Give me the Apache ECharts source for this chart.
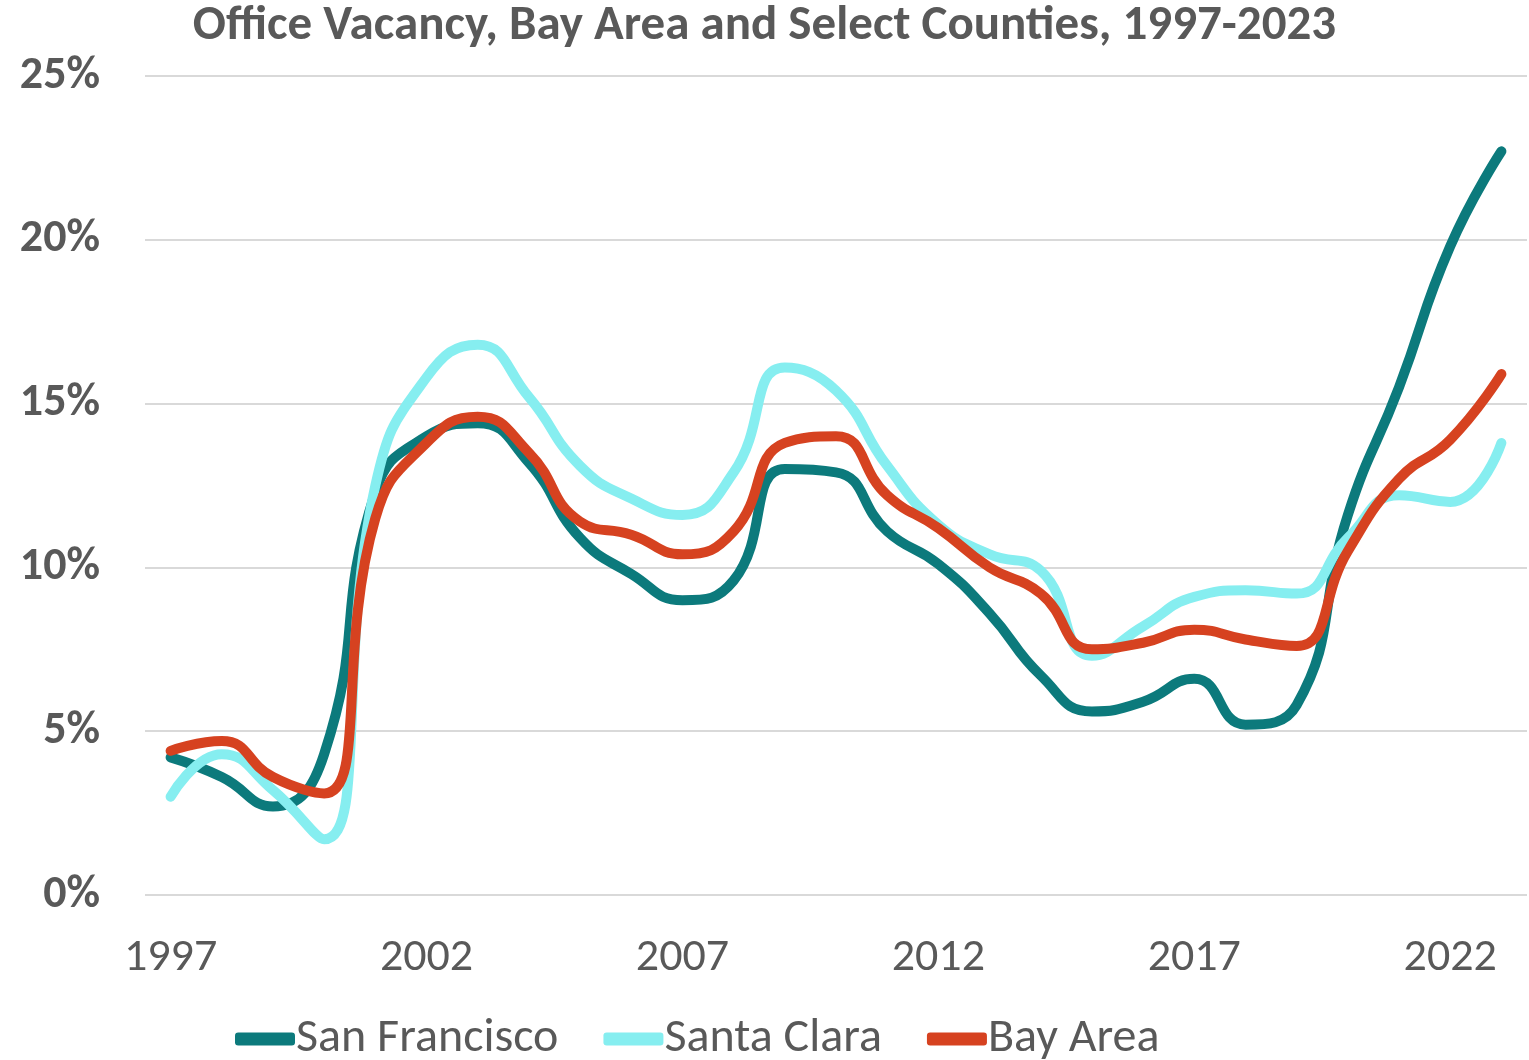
<!DOCTYPE html>
<html>
<head>
<meta charset="utf-8">
<script src="https://cdn.jsdelivr.net/npm/echarts@6/dist/echarts.min.js"></script>
<style>
  html, body { margin: 0; padding: 0; background: #ffffff; }
  #chart { width: 1529px; height: 1060px; }
</style>
</head>
<body>
<div id="chart"></div>
<script>
const years = ['1997','1998','1999','2000','2001','2002','2003','2004','2005','2006','2007','2008','2009','2010','2011','2012','2013','2014','2015','2016','2017','2018','2019','2020','2021','2022','2023'];
const sanFrancisco = [4.2, 3.6, 2.7, 4.3, 12.3, 14.0, 14.4, 13.2, 10.9, 9.8, 9.0, 9.6, 13.0, 12.9, 11.1, 10.1, 8.6, 6.7, 5.6, 5.9, 6.6, 5.2, 5.8, 11.6, 15.5, 19.8, 22.7];
const santaClara = [3.0, 4.3, 3.2, 1.7, 12.5, 15.8, 16.8, 15.2, 13.1, 12.1, 11.6, 12.9, 16.1, 15.4, 13.1, 11.3, 10.4, 9.9, 7.3, 8.2, 9.1, 9.3, 9.2, 10.9, 12.2, 12.0, 13.8];
const bayArea = [4.4, 4.7, 3.6, 3.1, 11.5, 13.8, 14.6, 13.5, 11.4, 11.0, 10.4, 11.1, 13.8, 14.0, 12.2, 11.2, 10.0, 9.2, 7.5, 7.7, 8.1, 7.8, 7.6, 10.5, 12.7, 13.9, 15.9];
const yTicks = [0, 5, 10, 15, 20, 25];

const FONT = "Carlito, Lato, 'Open Sans', sans-serif";
const GRAY = '#595959';

const chart = echarts.init(document.getElementById('chart'), null, { renderer: 'canvas' });

function mk(name, data, color) {
  return {
    name: name,
    type: 'line',
    data: data,
    smooth: 0.5,
    showSymbol: false,
    symbol: 'none',
    lineStyle: { width: 10, color: color, cap: 'round', join: 'round' },
    itemStyle: { color: color },
    emphasis: { disabled: true },
    animation: false
  };
}

chart.setOption({
  animation: false,
  backgroundColor: '#ffffff',
  title: {
    text: 'Office Vacancy, Bay Area and Select Counties, 1997-2023',
    left: 'center',
    top: -3,
    textStyle: { fontFamily: FONT, fontWeight: 'bold', fontSize: 49, color: GRAY }
  },
  grid: { left: 145, right: 2, top: 76, bottom: 165, containLabel: false },
  xAxis: {
    type: 'category',
    data: years,
    boundaryGap: true,
    axisLine: { show: false },
    axisTick: { show: false },
    splitLine: { show: false },
    axisLabel: {
      interval: 4,
      margin: 40,
      fontFamily: FONT,
      fontSize: 46,
      color: GRAY
    }
  },
  yAxis: {
    type: 'value',
    min: yTicks[0],
    max: yTicks[yTicks.length - 1],
    interval: 5,
    axisLine: { show: false },
    axisTick: { show: false },
    splitLine: { lineStyle: { color: '#d9d9d9', width: 2 } },
    axisLabel: {
      formatter: '{value}%',
      margin: 45,
      fontFamily: FONT,
      fontWeight: 'bold',
      fontSize: 46,
      color: GRAY
    }
  },
  legend: {
    bottom: -8,
    left: 230,
    itemWidth: 60,
    itemHeight: 13,
    itemGap: 45,
    icon: 'roundRect',
    textStyle: { fontFamily: FONT, fontSize: 48, color: GRAY, padding: [0, 0, 0, -4] },
    data: ['San Francisco', 'Santa Clara', 'Bay Area']
  },
  series: [
    mk('San Francisco', sanFrancisco, '#0c7a7c'),
    mk('Santa Clara', santaClara, '#86eef0'),
    mk('Bay Area', bayArea, '#d64220')
  ]
});
</script>
</body>
</html>
